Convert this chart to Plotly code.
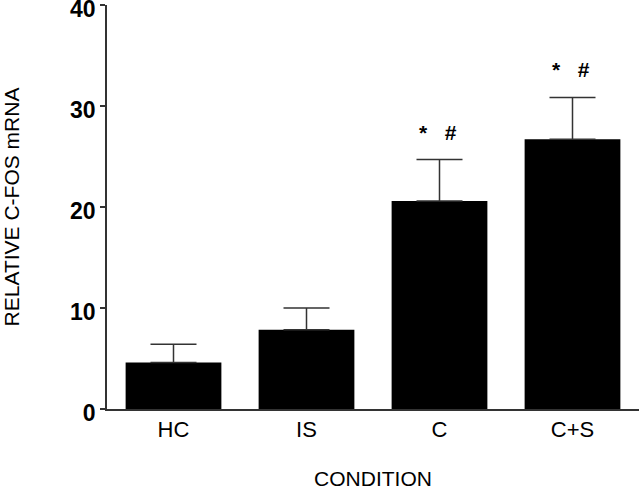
import plotly.graph_objects as go

categories = ["HC", "IS", "C", "C+S"]
means = [4.6, 7.85, 20.6, 26.7]
sem_upper = [1.8, 2.15, 4.1, 4.15]
sig_labels = ["", "", "*   #", "*   #"]
y_ticks = [0, 10, 20, 30, 40]

fig = go.Figure()
fig.add_trace(go.Bar(
    x=categories, y=means,
    marker=dict(color="black", line=dict(width=0)),
    error_y=dict(type="data", array=sem_upper, symmetric=False,
                 arrayminus=[0]*len(means), color="#333", thickness=1.5, width=23),
    width=0.72,
))

for c, m, e, s in zip(categories, means, sem_upper, sig_labels):
    if s:
        fig.add_annotation(x=c, y=m + e, text=s, showarrow=False, yanchor="bottom",
                           yshift=14, xshift=-2,
                           font=dict(family="Liberation Sans", size=21, color="black",
                                     weight="bold"))

fig.update_layout(
    width=640, height=491,
    margin=dict(l=107, r=1, t=5, b=82),
    plot_bgcolor="white", paper_bgcolor="white",
    showlegend=False,
    font=dict(family="Liberation Sans", color="black"),
)
fig.update_xaxes(
    range=[-0.5, 3.5], showline=True, linecolor="#333", linewidth=1.5,
    ticks="", tickfont=dict(size=22, family="Liberation Sans"),
    title=dict(text="CONDITION", font=dict(size=21), standoff=30),
    showgrid=False, automargin=False,
)
fig.update_yaxes(
    range=[0, 40], tickvals=y_ticks, showline=True, linecolor="#333", linewidth=1.5,
    ticks="outside", ticklen=5, tickwidth=1.5, tickcolor="#333",
    tickfont=dict(size=23, family="Liberation Sans", weight="bold"),
    ticklabeloverflow="allow", ticklabelshift=4,
    title=dict(text="RELATIVE C-FOS mRNA", font=dict(size=21), standoff=52),
    showgrid=False, zeroline=False, automargin=False,
)
fig.write_html("out.html", config={"displayModeBar": False},
               post_script=["document.body.style.margin='0';document.body.style.padding='0';"])
